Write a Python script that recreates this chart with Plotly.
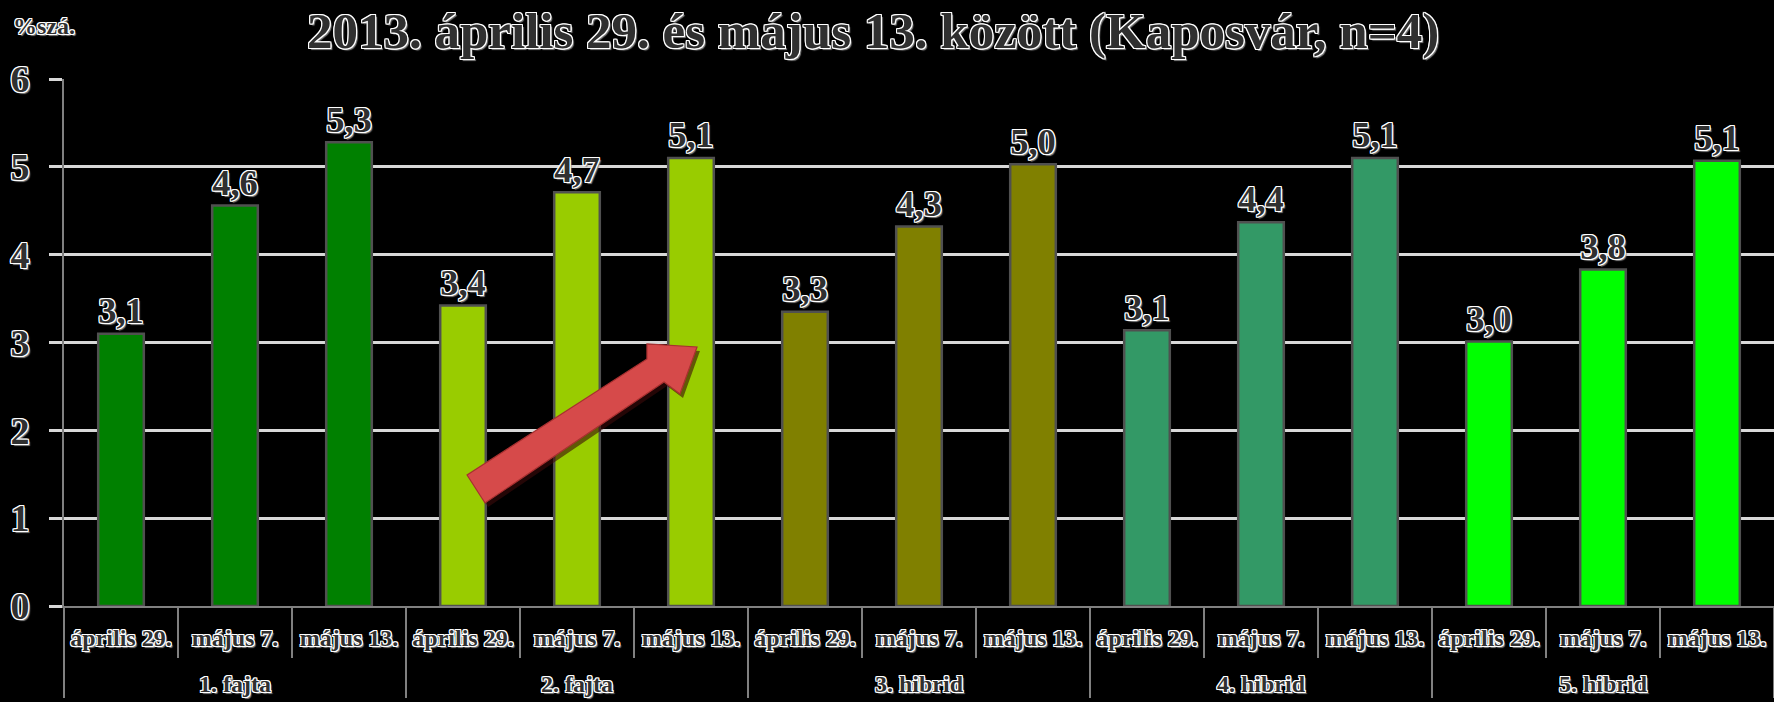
import plotly.graph_objects as go

# ---- data ----
groups = ["1. fajta", "2. fajta", "3. hibrid", "4. hibrid", "5. hibrid"]
dates = ["április 29.", "május 7.", "május 13."]
values = [3.10, 4.56, 5.28,
          3.42, 4.71, 5.10,
          3.35, 4.32, 5.03,
          3.14, 4.37, 5.10,
          3.01, 3.83, 5.07]
labels = ["3,1", "4,6", "5,3",
          "3,4", "4,7", "5,1",
          "3,3", "4,3", "5,0",
          "3,1", "4,4", "5,1",
          "3,0", "3,8", "5,1"]
group_colors = ["#008000", "#99CC00", "#808000", "#339966", "#00FF00"]
title_text = "2013. április 29. és május 13. között (Kaposvár, n=4)"
y_unit = "%szá."

# an invisible second line under the date labels pushes the group labels further down
SPACER = "<br><span style='font-size:4px'>&nbsp;</span>"
outer = [g for g in groups for _ in dates]
inner = [d + SPACER for _ in groups for d in dates]
colors = [c for c in group_colors for _ in dates]

SERIF = "Liberation Serif"
OUTLINE = ("1px 0 0 #ffffff, -1px 0 0 #ffffff, 0 1px 0 #ffffff, 0 -1px 0 #ffffff, "
           "1px 1px 0 #ffffff, -1px -1px 0 #ffffff, 1px -1px 0 #ffffff, -1px 1px 0 #ffffff, "
           "2px 2px 1px #808080")
TXT = "#303030"

fig = go.Figure()
fig.add_trace(go.Bar(
    x=[outer, inner],
    y=values,
    text=labels,
    textposition="outside",
    cliponaxis=False,
    marker=dict(color=colors, line=dict(color="#505050", width=2.5)),
    textfont=dict(family=SERIF, size=38, color=TXT, weight="bold", shadow=OUTLINE),
    hoverinfo="skip",
))

# red trend arrow (decoration), in paper coordinates
def px2paper(px, py):
    return (px - 64) / 1710, (606 - py) / 527

pts = [(485, 503), (467, 475), (647, 359), (647, 344), (697, 347), (680, 394), (664, 382)]
path = "M " + " L ".join("{:.4f},{:.4f}".format(*px2paper(*p)) for p in pts) + " Z"
shadow_path = "M " + " L ".join("{:.4f},{:.4f}".format(*px2paper(p[0] + 3, p[1] + 4)) for p in pts) + " Z"
fig.add_shape(type="path", path=shadow_path, xref="paper", yref="paper",
              fillcolor="rgba(60,10,10,0.6)", line=dict(width=0), layer="above")
fig.add_shape(type="path", path=path, xref="paper", yref="paper",
              fillcolor="#d64a4a", line=dict(color="#a83030", width=1.2), layer="above")

fig.add_annotation(text=title_text, xref="paper", yref="paper", x=0.473, y=1.034,
                   xanchor="center", yanchor="bottom", showarrow=False,
                   font=dict(family=SERIF, size=51, color=TXT, weight="bold", shadow=OUTLINE))
fig.add_annotation(text=y_unit, xref="paper", yref="paper", x=-0.031, y=1.10,
                   xanchor="left", yanchor="middle", showarrow=False,
                   font=dict(family=SERIF, size=24, color=TXT, weight="bold", shadow=OUTLINE))

fig.update_layout(
    width=1774, height=702,
    margin=dict(l=64, r=0, t=79, b=96),
    paper_bgcolor="#000000", plot_bgcolor="#000000",
    showlegend=False,
    bargap=0.6,
    xaxis=dict(
        type="multicategory", automargin=False,
        showline=True, linecolor="#808080", linewidth=2,
        ticks="outside", tickson="boundaries", ticklen=50, tickwidth=2, tickcolor="#808080",
        showdividers=True, dividercolor="#808080", dividerwidth=2,
        tickangle=0,
        ticklabelstandoff=9,
        tickfont=dict(family=SERIF, size=24, color=TXT, weight="bold", shadow=OUTLINE),
        showgrid=False,
    ),
    yaxis=dict(
        automargin=False,
        range=[0, 6], dtick=1, tick0=0,
        showgrid=True, gridcolor="#d8d8d8", gridwidth=3,
        zeroline=False,
        showline=True, linecolor="#808080", linewidth=2,
        ticks="outside", ticklen=13, tickwidth=3, tickcolor="#d8d8d8",
        ticklabelstandoff=12,
        tickfont=dict(family=SERIF, size=38, color=TXT, weight="bold", shadow=OUTLINE),
    ),
)

fig.write_html("out.html")
